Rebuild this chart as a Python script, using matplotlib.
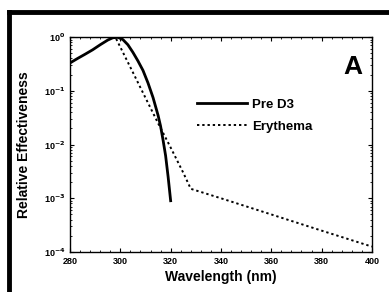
import numpy as np
import matplotlib.pyplot as plt
from matplotlib.lines import Line2D
from matplotlib.ticker import MultipleLocator, LogLocator, NullFormatter

# Pre D3 action spectrum
pre_wl = [280, 283, 286, 289, 292, 295, 297, 299, 301, 303, 305, 307, 309, 311, 313, 315, 316, 317, 318, 319, 320]
pre_val = [0.33, 0.40, 0.48, 0.58, 0.72, 0.88, 0.97, 0.99, 0.9, 0.72, 0.52, 0.36, 0.24, 0.14, 0.075, 0.035,
           0.022, 0.012, 0.0062, 0.0025, 0.0009]

# Erythema action spectrum
ery_wl = [280, 298, 300, 305, 310, 315, 320, 325, 328, 340, 360, 380, 400]
ery_val = [1.0, 1.0, 0.65, 0.22, 0.074, 0.025, 0.0088, 0.003, 0.0015, 0.001, 5e-4, 2.5e-4, 1.26e-4]

xticks = [280, 300, 320, 340, 360, 380, 400]
ytick_labels = ['10$^{-4}$', '10$^{-3}$', '10$^{-2}$', '10$^{-1}$', '10$^{0}$']

plt.rcParams['font.family'] = ['Liberation Sans', 'DejaVu Sans']
plt.rcParams['font.weight'] = 'bold'

fig = plt.figure(figsize=(3.89, 2.92), dpi=100)
ax = fig.add_axes([0.18, 0.137, 0.776, 0.736])

ax.plot(pre_wl, pre_val, color='black', lw=2.0, label='Pre D3')
ax.plot(ery_wl, ery_val, color='black', lw=1.4, ls=(0, (1.2, 1.5)), label='Erythema')

ax.set_yscale('log')
ax.set_xlim(280, 400)
ax.set_ylim(1e-4, 1)
ax.set_xticks(xticks)
ax.set_xticklabels([str(t) for t in xticks], fontsize=6.5, fontweight='bold')
ax.xaxis.set_minor_locator(MultipleLocator(4))
ax.set_yticks([1e-4, 1e-3, 1e-2, 1e-1, 1])
ax.set_yticklabels(ytick_labels, fontsize=6.5, fontweight='bold')
ax.yaxis.set_minor_locator(LogLocator(base=10, subs=np.arange(2, 10)))
ax.yaxis.set_minor_formatter(NullFormatter())
ax.tick_params(which='both', direction='in', top=True, right=True)
ax.tick_params(which='major', length=3, width=0.8)
ax.tick_params(which='minor', length=1.5, width=0.6)
for s in ax.spines.values():
    s.set_linewidth(1.0)

ax.set_xlabel('Wavelength (nm)', fontsize=10, fontweight='bold', labelpad=3)
ax.set_ylabel('Relative Effectiveness', fontsize=10, fontweight='bold', labelpad=9)

ax.text(0.97, 0.86, 'A', transform=ax.transAxes, fontsize=19, fontweight='bold',
        ha='right', va='center')

ax.legend(loc='upper left', bbox_to_anchor=(0.38, 0.77), frameon=False,
          handlelength=3.8, handletextpad=0.4, labelspacing=0.75, prop={'weight': 'bold', 'size': 9.5})

# black frame on top and left edges of the picture
fig.add_artist(Line2D([0.023, 1.0], [0.958, 0.958], color='black', lw=3.5, transform=fig.transFigure))
fig.add_artist(Line2D([0.023, 0.023], [0.0, 0.958], color='black', lw=3.5, transform=fig.transFigure))

fig.savefig('out.png', dpi=100)
